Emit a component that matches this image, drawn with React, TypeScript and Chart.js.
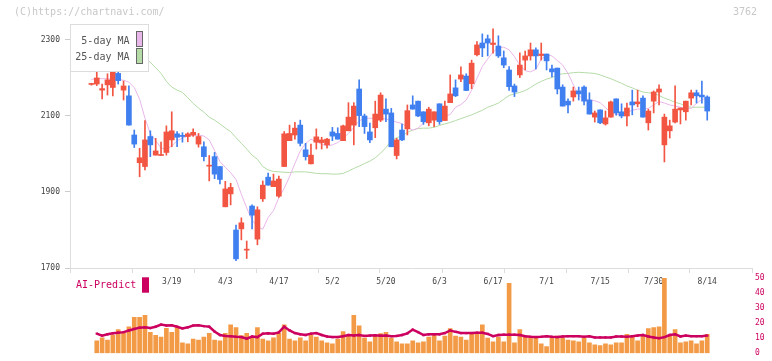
import { useEffect, useRef } from 'react';
import { Chart, registerables } from 'chart.js';
Chart.register(...registerables);

// ---- data ----
const dateLabels = ['3/19', '4/3', '4/17', '5/2', '5/20', '6/3', '6/17', '7/1', '7/15', '7/30', '8/14'];
const dateLabelIndex = [15, 25, 35, 45, 55, 65, 75, 85, 95, 105, 115];
const priceTicks = [1700, 1900, 2100, 2300];
const aiTicks = [0, 10, 20, 30, 40, 50];

const opens = [2183, 2184, 2168, 2182, 2175, 2212, 2168, 2153, 2050, 1977, 1967, 2046, 1997, 1996, 2004, 2037, 2053, 2049, 2046, 2050, 2026, 2019, 1968, 1993, 1967, 1861, 1895, 1800, 1803, 1747, 1863, 1776, 1882, 1939, 1914, 1889, 1967, 2035, 2050, 2076, 2011, 1974, 2031, 2030, 2024, 2058, 2054, 2035, 2061, 2076, 2171, 2100, 2058, 2069, 2089, 2118, 2108, 1996, 2063, 2066, 2129, 2139, 2111, 2082, 2089, 2132, 2088, 2135, 2174, 2197, 2205, 2185, 2261, 2292, 2303, 2288, 2284, 2253, 2221, 2179, 2208, 2247, 2258, 2274, 2259, 2263, 2224, 2226, 2176, 2139, 2150, 2166, 2176, 2142, 2097, 2116, 2079, 2097, 2145, 2111, 2100, 2137, 2132, 2147, 2082, 2139, 2163, 2024, 2061, 2084, 2116, 2111, 2147, 2161, 2155, 2150];
const highs = [2186, 2215, 2184, 2211, 2230, 2221, 2192, 2179, 2063, 2015, 2088, 2061, 2041, 2031, 2074, 2111, 2059, 2056, 2056, 2066, 2054, 2032, 1996, 2004, 1967, 1928, 1923, 1813, 1832, 1771, 1866, 1861, 1929, 1950, 1947, 1942, 2059, 2076, 2083, 2089, 2028, 2026, 2066, 2044, 2041, 2070, 2069, 2076, 2135, 2135, 2195, 2105, 2081, 2139, 2161, 2145, 2120, 2041, 2079, 2129, 2153, 2139, 2111, 2123, 2111, 2132, 2139, 2208, 2195, 2229, 2211, 2247, 2296, 2316, 2313, 2329, 2311, 2271, 2230, 2184, 2266, 2271, 2292, 2279, 2292, 2263, 2234, 2226, 2182, 2145, 2176, 2176, 2179, 2161, 2113, 2116, 2113, 2139, 2145, 2132, 2134, 2168, 2168, 2153, 2118, 2166, 2182, 2105, 2089, 2179, 2121, 2139, 2168, 2168, 2192, 2153];
const lows = [2181, 2180, 2145, 2155, 2153, 2184, 2142, 2076, 2017, 1940, 1958, 1993, 1997, 1996, 1997, 2019, 2019, 2031, 2032, 2046, 2018, 1982, 1929, 1935, 1921, 1861, 1866, 1719, 1774, 1725, 1803, 1761, 1875, 1918, 1914, 1886, 1967, 2035, 2039, 2021, 1984, 1974, 2013, 2013, 2015, 2035, 2039, 2035, 2061, 2024, 2072, 2054, 2030, 2043, 2085, 2085, 2019, 1987, 2035, 2050, 2118, 2098, 2078, 2074, 2072, 2078, 2088, 2135, 2151, 2190, 2167, 2172, 2258, 2256, 2258, 2265, 2254, 2227, 2167, 2151, 2201, 2221, 2247, 2224, 2247, 2221, 2203, 2158, 2126, 2108, 2139, 2142, 2129, 2105, 2084, 2080, 2076, 2097, 2102, 2095, 2074, 2103, 2124, 2097, 2063, 2108, 2129, 1979, 2042, 2082, 2079, 2089, 2129, 2134, 2134, 2089];
const closes = [2184, 2200, 2172, 2195, 2221, 2193, 2179, 2076, 2026, 1990, 2037, 2024, 2008, 1998, 2058, 2061, 2044, 2046, 2053, 2057, 2046, 1993, 1970, 1947, 1933, 1908, 1912, 1724, 1819, 1749, 1839, 1853, 1918, 1918, 1929, 1934, 2053, 2054, 2068, 2028, 1993, 1997, 2045, 2037, 2039, 2047, 2039, 2074, 2097, 2126, 2101, 2072, 2037, 2105, 2155, 2105, 2019, 2037, 2037, 2114, 2118, 2100, 2085, 2118, 2111, 2085, 2126, 2158, 2153, 2208, 2167, 2239, 2287, 2279, 2292, 2292, 2258, 2234, 2177, 2163, 2234, 2258, 2274, 2258, 2263, 2245, 2216, 2171, 2126, 2129, 2166, 2158, 2139, 2105, 2108, 2082, 2095, 2137, 2108, 2100, 2121, 2129, 2137, 2097, 2113, 2163, 2171, 2097, 2074, 2118, 2121, 2139, 2161, 2153, 2150, 2113];
const ma5 = [2196, 2199, 2198, 2198, 2197, 2196, 2194, 2189, 2175, 2144, 2094, 2054, 2035, 2016, 2012, 2021, 2035, 2042, 2047, 2049, 2050, 2047, 2037, 2009, 1980, 1965, 1951, 1933, 1894, 1858, 1826, 1809, 1802, 1833, 1851, 1885, 1910, 1940, 1975, 2008, 2028, 2039, 2032, 2026, 2021, 2024, 2030, 2041, 2054, 2070, 2087, 2094, 2094, 2094, 2094, 2092, 2088, 2084, 2080, 2070, 2063, 2068, 2081, 2089, 2091, 2095, 2099, 2104, 2123, 2130, 2142, 2168, 2199, 2230, 2250, 2268, 2280, 2281, 2274, 2256, 2234, 2219, 2216, 2223, 2249, 2261, 2258, 2246, 2234, 2212, 2182, 2154, 2144, 2142, 2140, 2135, 2122, 2109, 2104, 2104, 2109, 2115, 2118, 2119, 2120, 2129, 2138, 2134, 2129, 2126, 2123, 2120, 2120, 2133, 2144, 2145];
const ma25 = [2355, 2350, 2344, 2337, 2328, 2318, 2306, 2293, 2280, 2267, 2254, 2241, 2227, 2212, 2191, 2176, 2168, 2162, 2148, 2133, 2121, 2110, 2097, 2089, 2079, 2068, 2059, 2043, 2028, 2013, 1997, 1986, 1967, 1958, 1954, 1953, 1952, 1951, 1953, 1953, 1953, 1951, 1949, 1948, 1948, 1947, 1947, 1949, 1955, 1962, 1968, 1975, 1981, 1990, 2002, 2017, 2035, 2043, 2047, 2057, 2063, 2067, 2068, 2068, 2070, 2075, 2079, 2083, 2088, 2093, 2098, 2103, 2109, 2115, 2123, 2128, 2134, 2144, 2154, 2158, 2162, 2167, 2175, 2184, 2191, 2197, 2201, 2208, 2211, 2212, 2214, 2215, 2214, 2213, 2212, 2208, 2203, 2198, 2192, 2186, 2179, 2174, 2168, 2163, 2161, 2160, 2154, 2147, 2142, 2136, 2132, 2126, 2123, 2123, 2123, 2123];
// bottom panel (starts at the second trading day)
const volume = [8.2, 10.2, 8.8, 11.9, 15.7, 13.6, 17.6, 23.9, 23.9, 25.1, 13.8, 11.9, 10.7, 16.5, 13.8, 17.0, 6.9, 6.3, 9.4, 8.8, 10.7, 13.2, 8.8, 8.2, 13.2, 18.8, 17.0, 11.7, 13.2, 10.0, 17.0, 9.4, 8.2, 10.2, 13.4, 18.8, 9.4, 8.2, 10.2, 8.2, 11.9, 10.7, 8.2, 6.9, 6.3, 9.4, 14.4, 11.3, 25.1, 18.2, 10.0, 7.5, 11.3, 13.0, 13.8, 10.0, 7.5, 6.3, 6.3, 8.2, 6.9, 7.5, 10.7, 11.9, 8.2, 11.3, 16.3, 11.3, 10.7, 8.8, 13.2, 12.6, 18.8, 10.0, 7.5, 10.7, 7.5, 46.5, 6.9, 15.7, 11.3, 10.0, 10.7, 6.3, 4.4, 10.7, 11.3, 10.0, 8.8, 8.2, 7.5, 10.0, 6.9, 5.6, 5.0, 6.3, 5.6, 6.9, 6.9, 12.6, 10.7, 8.2, 11.9, 16.3, 17.0, 17.6, 49.7, 11.3, 15.7, 6.9, 7.5, 8.2, 6.3, 8.2, 12.6];
const aiPredict = [13.0, 11.7, 12.6, 13.2, 13.6, 14.0, 15.1, 16.1, 17.0, 17.2, 16.7, 17.6, 19.0, 18.4, 18.6, 17.6, 16.5, 17.2, 18.4, 18.6, 18.0, 17.6, 14.4, 12.1, 11.5, 11.3, 10.9, 10.7, 9.6, 11.1, 10.7, 13.0, 13.2, 13.0, 13.8, 17.6, 15.1, 13.4, 12.6, 12.1, 13.0, 13.4, 12.1, 11.1, 10.7, 10.7, 11.3, 12.1, 11.7, 12.1, 11.5, 11.7, 11.9, 11.6, 11.7, 11.3, 11.5, 12.1, 13.2, 15.7, 14.0, 12.1, 12.6, 12.6, 12.6, 13.4, 15.1, 14.2, 13.4, 13.4, 13.4, 13.6, 13.6, 12.8, 11.3, 12.1, 12.3, 12.3, 12.3, 12.1, 11.3, 10.9, 10.7, 10.9, 11.3, 10.9, 10.7, 11.1, 11.3, 11.3, 11.3, 10.9, 11.3, 10.5, 10.5, 10.5, 10.5, 11.1, 11.1, 10.9, 11.3, 11.7, 12.1, 11.1, 10.5, 10.0, 10.7, 12.1, 12.6, 11.1, 11.7, 11.3, 11.3, 11.3, 11.7];
const bottomStart = 1;

// ---- style ----
const MONO = '"DejaVu Sans Mono", monospace';
const UP = '#f25542';
const DOWN = '#3f7ff0';
const MA5_COLOR = '#e9b6e9';
const MA25_COLOR = '#b5dba7';
const AI_COLOR = '#cc005f';
const VOL_COLOR = '#f39a46';
const X_MIN = -4;
const X_MAX = 123.36;

const candleColors = opens.map((o, i) => (closes[i] >= o ? UP : DOWN));

const legendPlugin = {
  id: 'priceLegend',
  afterDatasetsDraw(chart: any) {
    const { ctx, chartArea } = chart;
    const l = chartArea.left;
    const t = chartArea.top;
    ctx.save();
    ctx.fillStyle = '#fff';
    ctx.fillRect(l, t, 78, 47);
    ctx.strokeStyle = '#dddddd';
    ctx.lineWidth = 1;
    ctx.strokeRect(l + 0.5, t + 0.5, 78, 47);
    const items = chart.data.datasets.filter((d: any) => d.showInLegend);
    ctx.font = `10px ${MONO}`;
    ctx.textAlign = 'right';
    ctx.textBaseline = 'middle';
    items.forEach((d: any, i: number) => {
      ctx.fillStyle = '#555';
      ctx.fillText(d.label, l + 59.5, t + 17 + i * 16);
      ctx.fillStyle = d.borderColor;
      ctx.fillRect(l + 66, t + 7.5 + i * 17, 7, 15);
      ctx.strokeStyle = '#666';
      ctx.strokeRect(l + 66.5, t + 7.5 + i * 17, 6, 15);
    });
    ctx.restore();
  },
  afterDraw(chart: any) {
    const { ctx } = chart;
    ctx.save();
    ctx.font = `10px ${MONO}`;
    ctx.fillStyle = '#c8c8c8';
    ctx.textBaseline = 'middle';
    ctx.textAlign = 'left';
    ctx.fillText('(C)https://chartnavi.com/', 14, 12.5);
    ctx.textAlign = 'right';
    ctx.fillText('3762', 757, 12.5);
    ctx.restore();
  },
};

const aiLegendPlugin = {
  id: 'aiLegend',
  afterDraw(chart: any) {
    const { ctx, chartArea } = chart;
    const ds = chart.data.datasets.find((d: any) => d.showInLegend);
    if (!ds) return;
    ctx.save();
    ctx.font = `10px ${MONO}`;
    ctx.fillStyle = ds.borderColor;
    ctx.textAlign = 'left';
    ctx.textBaseline = 'middle';
    ctx.fillText(ds.label, chartArea.left + 6, chartArea.top + 7.7);
    ctx.fillRect(chartArea.left + 72, chartArea.top - 0.7, 7, 15.4);
    ctx.restore();
  },
};

export default function App() {
  const priceRef = useRef<HTMLCanvasElement>(null);
  const aiRef = useRef<HTMLCanvasElement>(null);

  useEffect(() => {
    document.body.style.margin = '0';
    const idx = opens.map((_, i) => i);
    const priceChart = new Chart(priceRef.current as HTMLCanvasElement, {
      type: 'bar',
      data: {
        datasets: [
          {
            type: 'bar',
            label: 'body',
            data: idx.map((i) => ({ x: i, y: [opens[i], closes[i]] })) as any,
            backgroundColor: candleColors,
            barThickness: 5,
            minBarLength: 1,
            grouped: false,
            order: 1,
          } as any,
          {
            type: 'bar',
            label: 'wick',
            data: idx.map((i) => ({ x: i, y: [lows[i], highs[i]] })) as any,
            backgroundColor: candleColors,
            barThickness: 1,
            minBarLength: 1,
            grouped: false,
            order: 2,
          } as any,
          {
            type: 'line',
            label: '5-day MA',
            showInLegend: true,
            data: idx.map((i) => ({ x: i, y: ma5[i] })),
            borderColor: MA5_COLOR,
            borderWidth: 1,
            pointRadius: 0,
            tension: 0,
            order: 3,
          } as any,
          {
            type: 'line',
            label: '25-day MA',
            showInLegend: true,
            data: idx.map((i) => ({ x: i, y: ma25[i] })),
            borderColor: MA25_COLOR,
            borderWidth: 1,
            pointRadius: 0,
            tension: 0,
            order: 4,
          } as any,
        ],
      },
      options: {
        animation: false,
        responsive: false,
        maintainAspectRatio: false,
        layout: { padding: { left: 0, top: 24, right: 20, bottom: 63 } },
        plugins: { legend: { display: false }, tooltip: { enabled: false } },
        scales: {
          x: {
            type: 'linear',
            min: X_MIN,
            max: X_MAX,
            offset: false,
            afterBuildTicks: (scale: any) => {
              const t: any[] = [];
              for (let j = 0; j <= 11; j++) t.push({ value: X_MIN + (j * (X_MAX - X_MIN)) / 11 });
              dateLabelIndex.forEach((v) => t.push({ value: v }));
              t.sort((a, b) => a.value - b.value);
              scale.ticks = t;
            },
            afterFit: (scale: any) => {
              scale.height = 30;
            },
            grid: {
              offset: false,
              drawOnChartArea: false,
              drawTicks: true,
              tickLength: 5,
              tickWidth: 1,
              tickColor: (c: any) =>
                c.tick && dateLabelIndex.includes(c.tick.value) ? 'rgba(0,0,0,0)' : '#dddddd',
            },
            border: { display: true, color: '#dddddd' },
            ticks: {
              autoSkip: false,
              maxRotation: 0,
              minRotation: 0,
              padding: 4,
              color: '#444',
              font: { family: MONO, size: 8 },
              callback: (v: any) => {
                const k = dateLabelIndex.indexOf(Number(v));
                return k >= 0 ? dateLabels[k] : '';
              },
            },
          },
          y: {
            type: 'linear',
            position: 'left',
            min: 1700,
            max: 2342,
            afterBuildTicks: (scale: any) => {
              scale.ticks = priceTicks.map((v) => ({ value: v }));
            },
            afterFit: (scale: any) => {
              scale.width = 70;
            },
            grid: { drawOnChartArea: false, drawTicks: true, tickLength: 5, tickColor: '#cccccc' },
            border: { display: true, color: '#dddddd' },
            ticks: {
              padding: 5,
              color: '#444',
              font: { family: MONO, size: 8 },
              callback: (v: any) => String(v),
            },
          },
        },
      } as any,
      plugins: [legendPlugin],
    });

    const bidx = volume.map((_, i) => i + bottomStart);
    const aiChart = new Chart(aiRef.current as HTMLCanvasElement, {
      type: 'bar',
      data: {
        datasets: [
          {
            type: 'line',
            label: 'AI-Predict',
            showInLegend: true,
            data: bidx.map((x, i) => ({ x, y: aiPredict[i] })),
            borderColor: AI_COLOR,
            backgroundColor: AI_COLOR,
            borderWidth: 2.5,
            pointRadius: 1.6,
            pointStyle: 'rect',
            pointBorderWidth: 0,
            pointBackgroundColor: AI_COLOR,
            tension: 0,
            order: 0,
          } as any,
          {
            type: 'bar',
            label: 'volume',
            data: bidx.map((x, i) => ({ x, y: volume[i] })),
            backgroundColor: VOL_COLOR,
            barThickness: 4,
            grouped: false,
            order: 1,
          } as any,
        ],
      },
      options: {
        animation: false,
        responsive: false,
        maintainAspectRatio: false,
        layout: { padding: { left: 70, top: 278, right: 0, bottom: 3 } },
        plugins: { legend: { display: false }, tooltip: { enabled: false } },
        scales: {
          x: { type: 'linear', min: X_MIN, max: X_MAX, offset: false, display: false, grid: { offset: false } },
          y: {
            type: 'linear',
            position: 'right',
            min: 0,
            max: 50,
            afterBuildTicks: (scale: any) => {
              scale.ticks = aiTicks.map((v) => ({ value: v }));
            },
            afterFit: (scale: any) => {
              scale.width = 20;
            },
            grid: { display: false, drawTicks: false },
            border: { display: false },
            ticks: { padding: 3, color: AI_COLOR, font: { family: MONO, size: 8 }, callback: (v: any) => String(v) },
          },
        },
      } as any,
      plugins: [aiLegendPlugin],
    });

    return () => {
      priceChart.destroy();
      aiChart.destroy();
    };
  }, []);

  return (
    <div style={{ position: 'fixed', left: 0, top: 0, width: 772, height: 361, background: '#fff' }}>
      <canvas ref={priceRef} width={772} height={361} style={{ position: 'absolute', left: 0, top: 0, width: 772, height: 361 }} />
      <canvas ref={aiRef} width={772} height={361} style={{ position: 'absolute', left: 0, top: 0, width: 772, height: 361 }} />
    </div>
  );
}
